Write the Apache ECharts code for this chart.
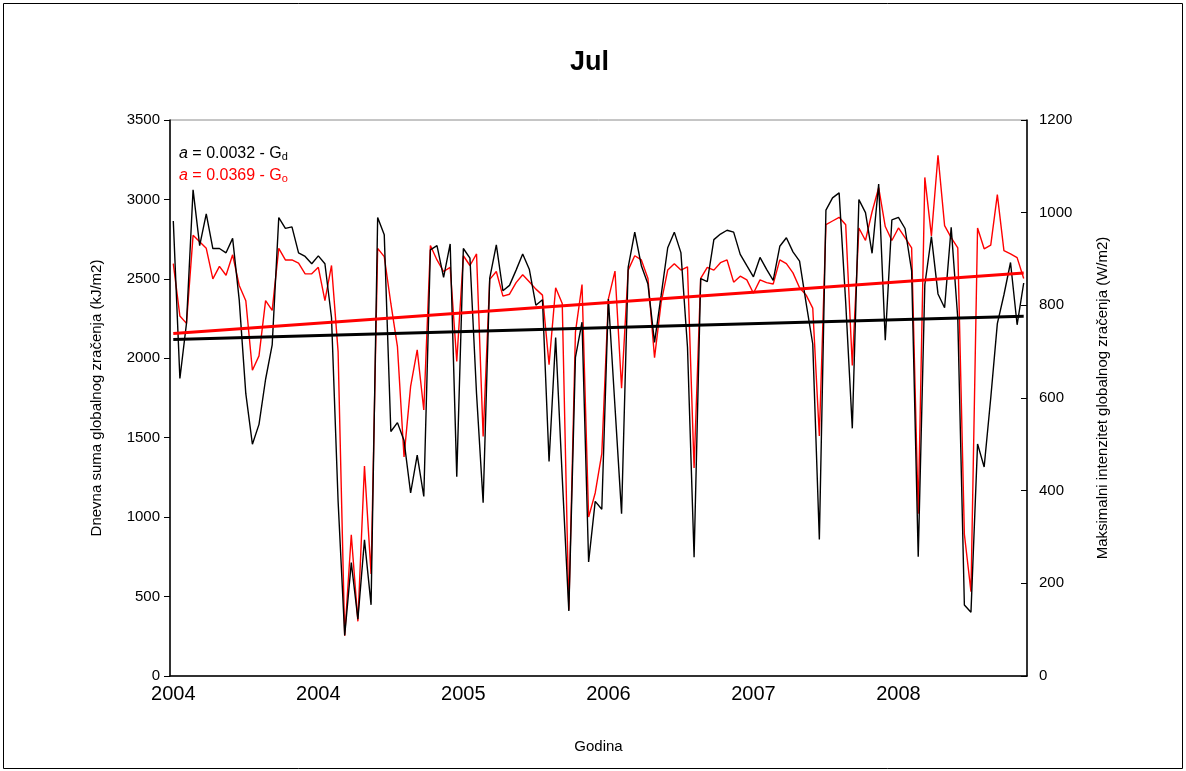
<!DOCTYPE html>
<html>
<head>
<meta charset="utf-8">
<title>Jul</title>
<script src="https://cdn.jsdelivr.net/npm/echarts@6.0.0/dist/echarts.min.js"></script>
<style>
  html, body { margin: 0; padding: 0; background: #fff; }
  #chart { width: 1186px; height: 771px; }
</style>
</head>
<body>
<div id="chart"></div>
<script>
// July, 26 days shown per year
const years = ['2004', '2005', '2006', '2007', '2008']
const daysPerYear = 26

// Gd - dnevna suma (kJ/m2), left axis
const gd = [
  2864, 1873, 2220, 3061, 2709, 2909, 2691, 2691, 2664, 2755, 2368, 1777, 1459,
  1584, 1868, 2084, 2886, 2818, 2827, 2664, 2641, 2595, 2645, 2595, 2255, 1100,
  255, 714, 357, 857, 448, 2886, 2777, 1539, 1595, 1482, 1152, 1391, 1130,
  2682, 2709, 2509, 2720, 1255, 2691, 2630, 1777, 1091, 2505, 2714, 2425, 2459,
  2555, 2657, 2561, 2334, 2368, 1350, 2130, 1250, 409, 2005, 2227, 718, 1099,
  1050, 2373, 1695, 1022, 2572, 2794, 2583, 2467, 2100, 2396, 2696, 2794, 2665,
  2069, 748, 2502, 2483, 2747, 2782, 2806, 2794, 2654, 2583, 2513, 2635, 2560,
  2490, 2705, 2759, 2670, 2612, 2346, 2090, 860, 2933, 3010, 3041, 2350,
  1559, 2999, 2917, 2661, 3097, 2113, 2871, 2887, 2817, 2550, 750, 2463, 2766,
  2405, 2318, 2824, 2250, 447, 401, 1461, 1316, 1750, 2218, 2400, 2603, 2211, 2474
]

// Go - maksimalni intenzitet (W/m2), right axis
const go = [
  890, 777, 761, 951, 937, 923, 857, 884, 865, 909, 843, 810, 660,
  691, 810, 789, 923, 898, 898, 891, 868, 868, 882, 810, 886, 700,
  87, 305, 118, 453, 220, 923, 905, 804, 711, 473, 625, 704, 574,
  929, 898, 873, 882, 679, 907, 886, 911, 517, 856, 873, 820, 824,
  849, 866, 851, 835, 822, 672, 838, 804, 143, 742, 845, 343, 395,
  480, 814, 874, 621, 876, 907, 898, 858, 687, 806, 876, 890, 876,
  883, 449, 858, 882, 876, 892, 898, 850, 863, 855, 826, 855, 849,
  846, 898, 890, 870, 838, 822, 794, 518, 974, 982, 990, 974,
  670, 967, 940, 1002, 1054, 970, 940, 967, 946, 924, 350, 1076, 950,
  1124, 972, 946, 924, 306, 182, 967, 922, 930, 1039, 918, 911, 903, 858
]

// linear trend, value at first and last day
const trendGd = [2118, 2265]
const trendGo = [739, 870]

const legendGd = ['0.0032', 'd']
const legendGo = ['0.0369', 'o']

const categories = []
years.forEach(y => {
  for (let d = 0; d < daysPerYear; d++) categories.push(y)
})
const last = categories.length - 1

const FONT = '"Liberation Sans", Arial, sans-serif'

const chart = echarts.init(document.getElementById('chart'), null, { renderer: 'canvas' })

function legendText(vals) {
  return '{i|a}{t| = ' + vals[0] + ' - G}{s|' + vals[1] + '}'
}
function legendRich(color) {
  return {
    i: { fontStyle: 'italic', fontSize: 16, fontFamily: FONT, fill: color, lineHeight: 20, verticalAlign: 'bottom' },
    t: { fontSize: 16, fontFamily: FONT, fill: color, lineHeight: 20, verticalAlign: 'bottom' },
    s: { fontSize: 11, fontFamily: FONT, fill: color, lineHeight: 17, verticalAlign: 'bottom' }
  }
}

chart.setOption({
  animation: false,
  backgroundColor: '#fff',
  title: {
    text: 'Jul',
    left: 565,
    top: 44,
    textStyle: { fontFamily: FONT, fontSize: 27, fontWeight: 'bold', color: '#000' }
  },
  grid: {
    left: 170, right: 159, top: 120, bottom: 95,
    show: true, borderColor: '#8c8c8c', borderWidth: 1, backgroundColor: '#fff'
  },
  graphic: [
    {
      type: 'rect',
      shape: { x: 3.5, y: 3.5, width: 1179, height: 765 },
      style: { fill: 'none', stroke: '#000', lineWidth: 1 },
      silent: true
    },
    {
      type: 'text', left: 179, top: 146,
      style: { text: legendText(legendGd), fill: '#000', rich: legendRich('#000') }
    },
    {
      type: 'text', left: 179, top: 168,
      style: { text: legendText(legendGo), fill: '#ff0000', rich: legendRich('#ff0000') }
    }
  ],
  xAxis: {
    type: 'category',
    data: categories,
    boundaryGap: true,
    name: 'Godina',
    nameLocation: 'middle',
    nameGap: 63,
    nameTextStyle: { fontFamily: FONT, fontSize: 15, color: '#000' },
    axisLine: { lineStyle: { color: '#000', width: 1.5 } },
    axisTick: { interval: 0, length: 6, lineStyle: { color: '#000', width: 1 } },
    axisLabel: { interval: 21, margin: 8, fontFamily: FONT, fontSize: 20, color: '#000' },
    splitLine: { show: false }
  },
  yAxis: [
    {
      type: 'value',
      min: 0, max: 3500, interval: 500,
      name: 'Dnevna suma globalnog zračenja (kJ/m2)',
      nameLocation: 'middle',
      nameRotate: 90,
      nameGap: 66,
      nameTextStyle: { fontFamily: FONT, fontSize: 15, color: '#000' },
      axisLine: { show: true, lineStyle: { color: '#000', width: 1.5 } },
      axisTick: { show: true, length: 6, lineStyle: { color: '#000' } },
      axisLabel: { margin: 10, fontFamily: FONT, fontSize: 15, color: '#000', formatter: v => String(v) },
      splitLine: { show: false }
    },
    {
      type: 'value',
      min: 0, max: 1200, interval: 200,
      name: 'Maksimalni intenzitet globalnog zračenja (W/m2)',
      nameLocation: 'middle',
      nameRotate: 90,
      nameGap: 68,
      nameTextStyle: { fontFamily: FONT, fontSize: 15, color: '#000' },
      axisLine: { show: true, lineStyle: { color: '#000', width: 1.5 } },
      axisTick: { show: true, inside: true, length: 6, lineStyle: { color: '#000' } },
      axisLabel: { margin: 12, fontFamily: FONT, fontSize: 15, color: '#000', formatter: v => String(v) },
      splitLine: { show: false }
    }
  ],
  series: [
    {
      name: 'Go',
      type: 'line',
      yAxisIndex: 1,
      data: go,
      symbol: 'none',
      lineStyle: { color: '#ff0000', width: 1.4 },
      z: 2
    },
    {
      name: 'Gd',
      type: 'line',
      yAxisIndex: 0,
      data: gd,
      symbol: 'none',
      lineStyle: { color: '#000', width: 1.4 },
      z: 3
    },
    {
      name: 'trend Gd',
      type: 'line',
      yAxisIndex: 0,
      data: [[0, trendGd[0]], [last, trendGd[1]]],
      symbol: 'none',
      lineStyle: { color: '#000', width: 3 },
      z: 4
    },
    {
      name: 'trend Go',
      type: 'line',
      yAxisIndex: 1,
      data: [[0, trendGo[0]], [last, trendGo[1]]],
      symbol: 'none',
      lineStyle: { color: '#ff0000', width: 3 },
      z: 4
    }
  ]
})
</script>
</body>
</html>
